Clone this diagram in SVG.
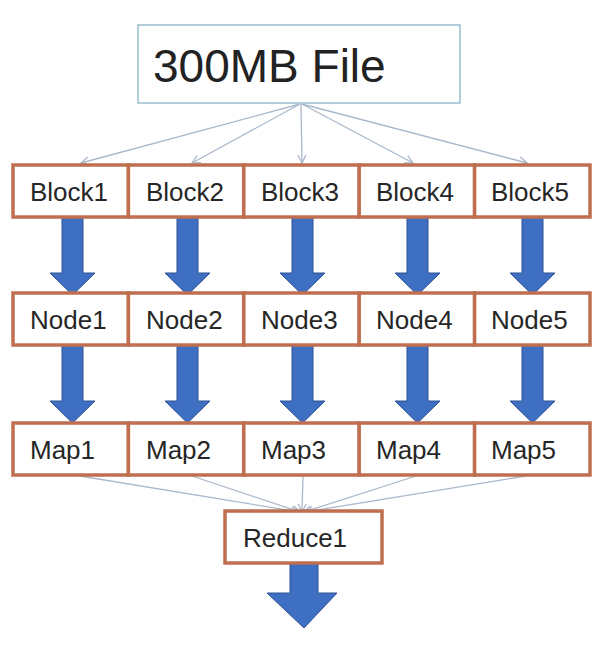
<svg xmlns="http://www.w3.org/2000/svg" width="602" height="646" viewBox="0 0 602 646">
<style>
.box{fill:#ffffff;stroke:#bf6f4f;stroke-width:3.5}
.top{fill:#ffffff;stroke:#9fc2cf;stroke-width:1.6}
.lbl{font-family:"Liberation Sans",Arial,sans-serif;font-size:26px;fill:#262626}
.big{font-family:"Liberation Sans",Arial,sans-serif;font-size:46px;fill:#222222}
.thin{fill:none;stroke:#a9b9cb;stroke-width:1.3}
.fat{fill:#3f6fc2;stroke:#2d5396;stroke-width:1}
</style>
<defs>
<marker id="open" markerUnits="userSpaceOnUse" markerWidth="12" markerHeight="12" refX="9" refY="5" orient="auto">
<path d="M1,1 L9,5 L1,9" fill="none" stroke="#a9b9cb" stroke-width="1.3"/>
</marker>
<path id="arr" d="M-10.5,0 L10.5,0 L10.5,56 L22.5,56 L0,78 L-22.5,56 L-10.5,56 Z"/>
</defs>
<rect width="602" height="646" fill="#ffffff"/>

<g id="connectors">
<line class="thin" x1="300" y1="104" x2="81" y2="163" marker-end="url(#open)"/>
<line class="thin" x1="300" y1="104" x2="192" y2="163" marker-end="url(#open)"/>
<line class="thin" x1="301" y1="104" x2="302" y2="163" marker-end="url(#open)"/>
<line class="thin" x1="302" y1="104" x2="413" y2="163" marker-end="url(#open)"/>
<line class="thin" x1="302" y1="104" x2="527" y2="163" marker-end="url(#open)"/>
<line class="thin" x1="80" y1="476" x2="299" y2="512" marker-end="url(#open)"/>
<line class="thin" x1="192" y1="476" x2="300" y2="512" marker-end="url(#open)"/>
<line class="thin" x1="303" y1="476" x2="302" y2="512" marker-end="url(#open)"/>
<line class="thin" x1="416" y1="476" x2="304" y2="512" marker-end="url(#open)"/>
<line class="thin" x1="526" y1="476" x2="305" y2="512" marker-end="url(#open)"/>

<use href="#arr" class="fat" x="72.5" y="217"/>
<use href="#arr" class="fat" x="187.5" y="217"/>
<use href="#arr" class="fat" x="302.5" y="217"/>
<use href="#arr" class="fat" x="417.5" y="217"/>
<use href="#arr" class="fat" x="532.5" y="217"/>
<use href="#arr" class="fat" x="72.5" y="345"/>
<use href="#arr" class="fat" x="187.5" y="345"/>
<use href="#arr" class="fat" x="302.5" y="345"/>
<use href="#arr" class="fat" x="417.5" y="345"/>
<use href="#arr" class="fat" x="532.5" y="345"/>
<path class="fat" d="M290,563 L318,563 L318,593 L337,593 L304,628 L267,593 L290,593 Z"/>
</g>

<g id="file">
<rect class="top" x="138" y="25" width="322" height="78"/>
<text class="big" x="153" y="82">300MB File</text>
</g>

<g id="block1"><rect class="box" x="13" y="165" width="115.4" height="52"/><text class="lbl" x="30" y="201">Block1</text></g>
<g id="block2"><rect class="box" x="128.4" y="165" width="115.4" height="52"/><text class="lbl" x="146" y="201">Block2</text></g>
<g id="block3"><rect class="box" x="243.8" y="165" width="115.4" height="52"/><text class="lbl" x="261" y="201">Block3</text></g>
<g id="block4"><rect class="box" x="359.2" y="165" width="115.4" height="52"/><text class="lbl" x="376" y="201">Block4</text></g>
<g id="block5"><rect class="box" x="474.6" y="165" width="115.4" height="52"/><text class="lbl" x="491" y="201">Block5</text></g>

<g id="node1"><rect class="box" x="13" y="293" width="115.4" height="52"/><text class="lbl" x="30" y="329">Node1</text></g>
<g id="node2"><rect class="box" x="128.4" y="293" width="115.4" height="52"/><text class="lbl" x="146" y="329">Node2</text></g>
<g id="node3"><rect class="box" x="243.8" y="293" width="115.4" height="52"/><text class="lbl" x="261" y="329">Node3</text></g>
<g id="node4"><rect class="box" x="359.2" y="293" width="115.4" height="52"/><text class="lbl" x="376" y="329">Node4</text></g>
<g id="node5"><rect class="box" x="474.6" y="293" width="115.4" height="52"/><text class="lbl" x="491" y="329">Node5</text></g>

<g id="map1"><rect class="box" x="13" y="423" width="115.4" height="52"/><text class="lbl" x="30" y="459">Map1</text></g>
<g id="map2"><rect class="box" x="128.4" y="423" width="115.4" height="52"/><text class="lbl" x="146" y="459">Map2</text></g>
<g id="map3"><rect class="box" x="243.8" y="423" width="115.4" height="52"/><text class="lbl" x="261" y="459">Map3</text></g>
<g id="map4"><rect class="box" x="359.2" y="423" width="115.4" height="52"/><text class="lbl" x="376" y="459">Map4</text></g>
<g id="map5"><rect class="box" x="474.6" y="423" width="115.4" height="52"/><text class="lbl" x="491" y="459">Map5</text></g>

<g id="reduce1"><rect class="box" x="225" y="511" width="157" height="52"/><text class="lbl" x="243" y="547">Reduce1</text></g>
</svg>
